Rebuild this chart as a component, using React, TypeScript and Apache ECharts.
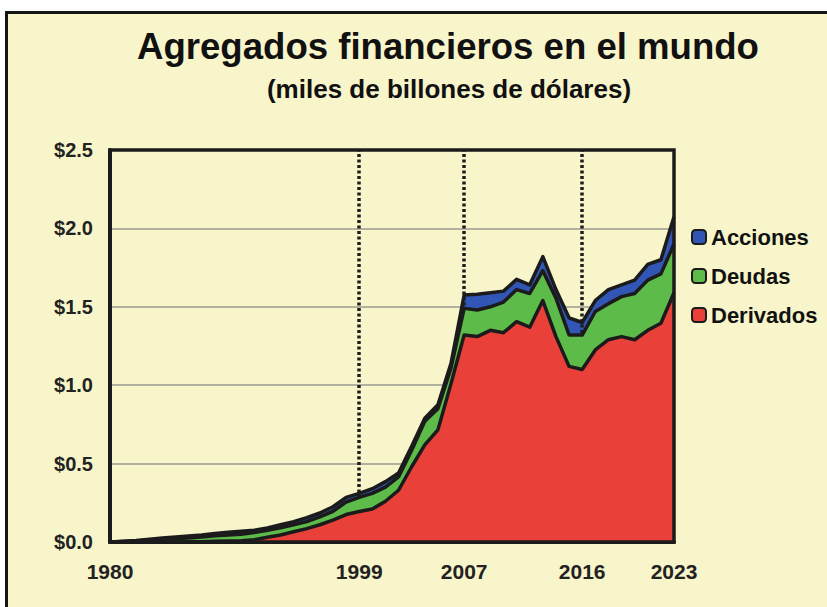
import React, { useEffect, useRef } from "react";
import * as echarts from "echarts";

const years = [
  "1980", "1981", "1982", "1983", "1984", "1985", "1986", "1987", "1988", "1989",
  "1990", "1991", "1992", "1993", "1994", "1995", "1996", "1997", "1998", "1999",
  "2000", "2001", "2002", "2003", "2004", "2005", "2006", "2007", "2008", "2009",
  "2010", "2011", "2012", "2013", "2014", "2015", "2016", "2017", "2018", "2019",
  "2020", "2021", "2022", "2023",
];

const labelYears = ["1980", "1999", "2007", "2016", "2023"];
const markerYears = ["1999", "2007", "2016"];

const derivados = [
  0, 0, 0, 0, 0, 0, 0, 0.002, 0.004, 0.006,
  0.008, 0.015, 0.03, 0.045, 0.065, 0.085, 0.11, 0.14, 0.175, 0.195,
  0.21, 0.26, 0.33, 0.48, 0.62, 0.715, 1.01, 1.32, 1.31, 1.35,
  1.335, 1.405, 1.37, 1.54, 1.31, 1.12, 1.1, 1.225, 1.29, 1.31,
  1.29, 1.35, 1.395, 1.59,
];

const deudas = [
  0, 0.003, 0.006, 0.012, 0.017, 0.022, 0.026, 0.03, 0.036, 0.039,
  0.042, 0.045, 0.045, 0.045, 0.045, 0.045, 0.05, 0.055, 0.08, 0.09,
  0.1, 0.09, 0.085, 0.105, 0.15, 0.135, 0.1, 0.17, 0.17, 0.15,
  0.195, 0.205, 0.215, 0.19, 0.245, 0.2, 0.22, 0.245, 0.23, 0.255,
  0.295, 0.32, 0.315, 0.31,
];

const acciones = [
  0, 0.002, 0.004, 0.006, 0.008, 0.01, 0.012, 0.013, 0.015, 0.017,
  0.018, 0.015, 0.015, 0.02, 0.02, 0.025, 0.025, 0.03, 0.03, 0.025,
  0.03, 0.035, 0.025, 0.025, 0.02, 0.025, 0.03, 0.085, 0.1, 0.09,
  0.07, 0.065, 0.055, 0.09, 0.055, 0.11, 0.08, 0.07, 0.09, 0.075,
  0.085, 0.1, 0.09, 0.175,
];

const FONT = '"Liberation Sans", Arial, Helvetica, sans-serif';
const CREAM = "#f7f5c9";
const INK = "#1b1b1b";
const RED = "#ea403a";
const GREEN = "#5dbb4a";
const BLUE = "#3156b6";

export default function App() {
  const ref = useRef<HTMLDivElement>(null);

  useEffect(() => {
    if (!ref.current) return;
    const chart = echarts.init(ref.current, null, { renderer: "svg" });

    const areaSeries = (name: string, data: number[], color: string, z: number) => ({
      name,
      type: "line",
      stack: "total",
      data,
      z,
      symbol: "none",
      showSymbol: false,
      lineStyle: { color: INK, width: 3.5, join: "round" },
      itemStyle: { color },
      areaStyle: { color, opacity: 1 },
      emphasis: { disabled: true },
    });

    chart.setOption({
      animation: false,
      backgroundColor: "transparent",
      textStyle: { fontFamily: FONT },
      title: [
        {
          text: "Agregados financieros en el mundo",
          left: 443,
          top: 23,
          textAlign: "center",
          textStyle: { fontFamily: FONT, fontSize: 36.6, fontWeight: "bold", color: "#111" },
        },
        {
          text: "(miles de billones de dólares)",
          left: 444,
          top: 71,
          textAlign: "center",
          textStyle: { fontFamily: FONT, fontSize: 26, fontWeight: "bold", color: "#111" },
        },
      ],
      legend: {
        data: ["Acciones", "Deudas", "Derivados"],
        orient: "vertical",
        left: 686,
        top: 221,
        icon: "roundRect",
        itemWidth: 14,
        itemHeight: 14,
        itemGap: 17,
        itemStyle: { borderColor: INK, borderWidth: 2 },
        textStyle: { fontFamily: FONT, fontSize: 22, fontWeight: "bold", color: "#111", padding: [0, 0, 0, 0] },
      },
      grid: { left: 110, right: 153, top: 150, bottom: 65, containLabel: false },
      xAxis: {
        type: "category",
        data: years,
        boundaryGap: false,
        axisLine: { show: true, lineStyle: { color: INK, width: 4 } },
        axisTick: { show: false },
        splitLine: { show: false },
        axisLabel: {
          interval: (_i: number, v: string) => labelYears.includes(v),
          margin: 19,
          fontFamily: FONT,
          fontSize: 21,
          fontWeight: "bold",
          color: "#222",
        },
      },
      yAxis: {
        type: "value",
        min: 0,
        max: 2.5,
        interval: 0.5,
        axisLine: { show: true, lineStyle: { color: INK, width: 4 } },
        axisTick: { show: false },
        splitLine: { show: true, lineStyle: { color: "#9a9a92", width: 1.5 } },
        axisLabel: {
          margin: 17,
          fontFamily: FONT,
          fontSize: 20,
          fontWeight: "bold",
          color: "#222",
          formatter: (v: number) => "$" + v.toFixed(1),
        },
      },
      series: [
        areaSeries("Derivados", derivados, RED, 6),
        areaSeries("Deudas", deudas, GREEN, 5),
        areaSeries("Acciones", acciones, BLUE, 4),
        {
          name: "guides",
          type: "line",
          data: [],
          z: 10,
          silent: true,
          markLine: {
            silent: true,
            symbol: "none",
            label: { show: false },
            lineStyle: { color: "#1e1e1e", width: 3.5, type: [3, 2.5] },
            data: markerYears.map((y) => ({ xAxis: y })),
          },
        },
      ],
      graphic: [
        {
          type: "rect",
          z: 100,
          silent: true,
          shape: { x: 110, y: 150, width: 564, height: 392 },
          style: { fill: "none", stroke: INK, lineWidth: 3.5 },
        },
      ],
    });

    return () => chart.dispose();
  }, []);

  return (
    <div style={{ position: "fixed", left: 0, top: 0, width: 827, height: 607, background: "#ffffff", overflow: "hidden" }}>
      <div
        style={{
          position: "absolute",
          left: 5,
          top: 11,
          width: 830,
          height: 610,
          background: CREAM,
          borderTop: "3px solid #151515",
          borderLeft: "3px solid #151515",
          boxSizing: "border-box",
        }}
      />
      <div ref={ref} style={{ position: "absolute", left: 0, top: 0, width: 827, height: 607 }} />
    </div>
  );
}
